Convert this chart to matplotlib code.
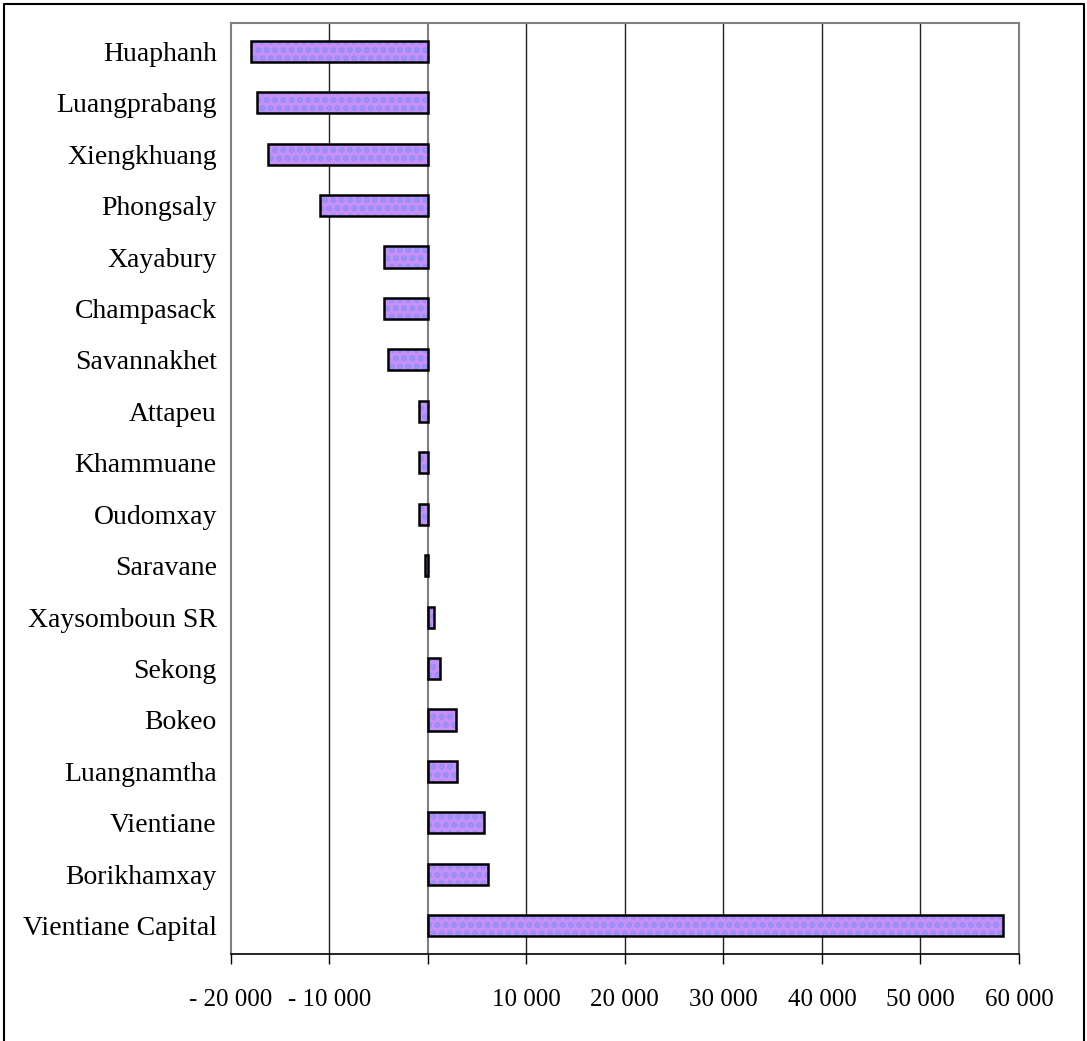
import numpy as np
import matplotlib.pyplot as plt
from matplotlib.ticker import FuncFormatter

provinces = ["Huaphanh", "Luangprabang", "Xiengkhuang", "Phongsaly", "Xayabury",
             "Champasack", "Savannakhet", "Attapeu", "Khammuane", "Oudomxay",
             "Saravane", "Xaysomboun SR", "Sekong", "Bokeo", "Luangnamtha",
             "Vientiane", "Borikhamxay", "Vientiane Capital"]
net_change = [-17900, -17300, -16200, -10900, -4450, -4450, -4050, -900, -900, -900,
              -250, 650, 1250, 2850, 3000, 5700, 6150, 58400]
x_ticks = [-20000, -10000, 0, 10000, 20000, 30000, 40000, 50000, 60000]

plt.rcParams['font.family'] = ['Liberation Serif', 'DejaVu Serif']
plt.rcParams['hatch.linewidth'] = 3.0

fig = plt.figure(figsize=(10.87, 10.41), dpi=100)
ax = fig.add_axes([230.7 / 1087, 1 - 954 / 1041, (1019 - 230.7) / 1087, (954 - 23) / 1041])

# outer chart border (no bottom edge)
fig.add_artist(plt.Line2D([4 / 1087, 4 / 1087, 1084 / 1087, 1084 / 1087],
                          [0, 1 - 4 / 1041, 1 - 4 / 1041, 0],
                          transform=fig.transFigure, color='black', lw=1.5))

y = np.arange(len(provinces))
# dotted fill first, then the black outline on top
ax.barh(y, net_change, height=0.41, color='#c78ff8', edgecolor='#9090f6',
        hatch='..', linewidth=0, zorder=3)
ax.barh(y, net_change, height=0.41, fill=False, edgecolor='black', linewidth=1.8, zorder=4)

ax.set_ylim(len(provinces) - 0.5 + 0.05, -0.5 - 0.05)
ax.set_xlim(-20000, 60000)
ax.set_yticks(y)
ax.set_yticklabels(provinces, fontsize=20)
ax.tick_params(axis='y', length=0, pad=10)

ax.set_xticks(x_ticks)

def fmt(v, pos):
    if v == 0:
        return ""
    s = f"{abs(int(v)):,}".replace(",", " ")
    return ("- " + s) if v < 0 else s

ax.xaxis.set_major_formatter(FuncFormatter(fmt))
ax.tick_params(axis='x', direction='out', length=7, width=1, labelsize=18, pad=18)

for v in [-10000, 10000, 20000, 30000, 40000, 50000]:
    ax.axvline(v, color='#222222', lw=1, zorder=1)
ax.axvline(0, color='#808080', lw=1.5, zorder=2)

for s in ['left', 'top', 'right']:
    ax.spines[s].set_color('#808080')
    ax.spines[s].set_linewidth(1.5)
ax.spines['bottom'].set_color('black')
ax.spines['bottom'].set_linewidth(1.2)

fig.savefig("out.png", dpi=100)
